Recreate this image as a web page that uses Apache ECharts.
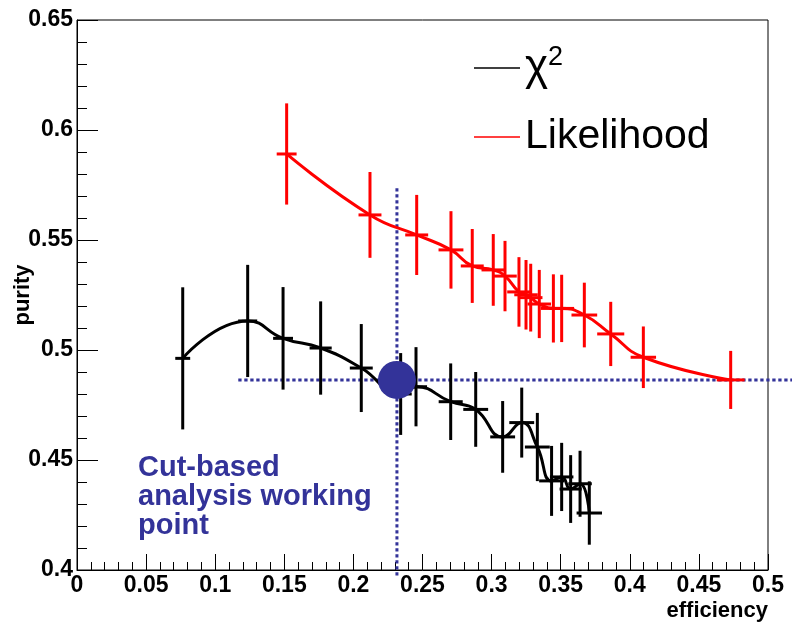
<!DOCTYPE html>
<html>
<head>
<meta charset="utf-8">
<script src="https://cdn.jsdelivr.net/npm/echarts@6/dist/echarts.min.js"></script>
<style>
html,body{margin:0;padding:0;background:#fff;}
#chart{width:792px;height:625px;}
</style>
</head>
<body>
<div id="chart"></div>
<script>
// chi2 selection
const chiX  = [0.0765, 0.1235, 0.1491, 0.1763, 0.2057, 0.2342, 0.2453, 0.2704, 0.2885, 0.3080, 0.3218, 0.3331, 0.3434, 0.3507, 0.3572, 0.3640, 0.3707];
const chiY  = [0.4962, 0.5132, 0.5053, 0.5009, 0.4918, 0.4800, 0.4833, 0.4765, 0.4730, 0.4605, 0.4670, 0.4559, 0.4405, 0.4423, 0.4368, 0.4392, 0.4259];
const chiEX = [0.0054, 0.0069, 0.0072, 0.0080, 0.0083, 0.0080, 0.0080, 0.0087, 0.0090, 0.0090, 0.0090, 0.0090, 0.0090, 0.0085, 0.0080, 0.0085, 0.0092];
const chiEY = [0.0323, 0.0255, 0.0233, 0.0212, 0.0200, 0.0186, 0.0180, 0.0174, 0.0170, 0.0163, 0.0159, 0.0155, 0.0159, 0.0155, 0.0154, 0.0150, 0.0144];
// likelihood selection
const likX  = [0.1517, 0.2120, 0.2458, 0.2706, 0.2860, 0.3012, 0.3097, 0.3198, 0.3249, 0.3283, 0.3345, 0.3447, 0.3507, 0.3671, 0.3862, 0.4098, 0.4730];
const likY  = [0.5891, 0.5614, 0.5523, 0.5455, 0.5382, 0.5364, 0.5336, 0.5264, 0.5251, 0.5238, 0.5209, 0.5189, 0.5189, 0.5159, 0.5073, 0.4967, 0.4864];
const likEX = [0.0072, 0.0083, 0.0083, 0.0090, 0.0083, 0.0085, 0.0085, 0.0085, 0.0085, 0.0085, 0.0085, 0.0090, 0.0090, 0.0093, 0.0098, 0.0092, 0.0101];
const likEY = [0.0230, 0.0195, 0.0182, 0.0176, 0.0168, 0.0163, 0.0160, 0.0158, 0.0158, 0.0154, 0.0155, 0.0155, 0.0153, 0.0147, 0.0146, 0.0140, 0.0132];
// cut-based working point and its guide lines [x1, y1, x2, y2]
const wpX = 0.2315, wpY = 0.4864;
const guides = [
  [0.1167, wpY, 0.5174, wpY],
  [wpX, 0.3975, wpX, 0.5741]
];
const xTicks = {min: 0, max: 0.5, step: 0.05};
const yTicks = {min: 0.4, max: 0.65, step: 0.05};

const BLUE = '#333399';
const FONT = '"Liberation Sans", Arial, Helvetica, sans-serif';

function pts(xs, ys) { return xs.map((x, i) => [x, ys[i]]); }
function errs(xs, ys, ex, ey) { return xs.map((x, i) => [x, ys[i], ex[i], ey[i]]); }

function errRender(color) {
  return function (params, api) {
    const x = api.value(0), y = api.value(1), ex = api.value(2), ey = api.value(3);
    const h0 = api.coord([x - ex, y]), h1 = api.coord([x + ex, y]);
    const v0 = api.coord([x, y - ey]), v1 = api.coord([x, y + ey]);
    const st = {stroke: color, lineWidth: 3};
    return {type: 'group', children: [
      {type: 'line', shape: {x1: h0[0], y1: h0[1], x2: h1[0], y2: h1[1]}, style: st},
      {type: 'line', shape: {x1: v0[0], y1: v0[1], x2: v1[0], y2: v1[1]}, style: st}
    ]};
  };
}

function guideRender(params, api) {
  const a = api.coord([api.value(0), api.value(1)]);
  const b = api.coord([api.value(2), api.value(3)]);
  return {type: 'line', shape: {x1: a[0], y1: a[1], x2: b[0], y2: b[1]},
    style: {stroke: BLUE, lineWidth: 3, lineDash: [3.3, 2.7], lineCap: 'butt'}};
}

const chart = echarts.init(document.getElementById('chart'), null, {renderer: 'canvas'});
const axisLabelStyle = {color: '#000', fontFamily: FONT, fontWeight: 'bold', fontSize: 23};

chart.setOption({
  animation: false,
  backgroundColor: '#fff',
  grid: {left: 77, right: 24, top: 20, bottom: 55, show: true, borderColor: '#000', borderWidth: 1, containLabel: false},
  legend: [
    {
      data: [{name: 'chi2', itemStyle: {color: '#000'}}],
      orient: 'vertical', left: 474, top: 44, padding: 0,
      icon: 'rect', itemWidth: 46, itemHeight: 1.5, itemGap: 14,
      selectedMode: false,
      formatter: function () { return '{c|χ}{s|2}'; },
      textStyle: {
        color: '#000', fontFamily: FONT, fontSize: 44, lineHeight: 48,
        rich: {
          c: {fontSize: 44, fontFamily: FONT, color: '#000', lineHeight: 48},
          s: {fontSize: 27, fontFamily: FONT, color: '#000', verticalAlign: 'top', lineHeight: 30}
        }
      }
    },
    {
      data: [{name: 'Likelihood', itemStyle: {color: '#ff0000'}}],
      orient: 'vertical', left: 474, top: 115, padding: 0,
      icon: 'rect', itemWidth: 46, itemHeight: 1.5, itemGap: 14,
      selectedMode: false,
      textStyle: {color: '#000', fontFamily: FONT, fontSize: 41, lineHeight: 44}
    }
  ],
  xAxis: {
    type: 'value', min: xTicks.min, max: xTicks.max, interval: xTicks.step,
    name: 'efficiency', nameLocation: 'end', nameGap: 0, nameMoveOverlap: false,
    nameTextStyle: {color: '#000', fontFamily: FONT, fontWeight: 'bold', fontSize: 22, align: 'right', verticalAlign: 'top', padding: [30, 0, 0, 0]},
    axisLine: {show: true, onZero: false, lineStyle: {color: '#000', width: 1}},
    axisTick: {show: true, inside: true, length: 16, lineStyle: {color: '#000', width: 1}},
    minorTick: {show: true, splitNumber: 5, length: 8, lineStyle: {color: '#000', width: 1}},
    axisLabel: Object.assign({margin: 4}, axisLabelStyle),
    splitLine: {show: false}, minorSplitLine: {show: false}
  },
  yAxis: {
    type: 'value', min: yTicks.min, max: yTicks.max, interval: yTicks.step,
    name: 'purity', nameLocation: 'middle', nameRotate: 90, nameGap: 43, nameMoveOverlap: false,
    nameTextStyle: {color: '#000', fontFamily: FONT, fontWeight: 'bold', fontSize: 22},
    axisLine: {show: true, onZero: false, lineStyle: {color: '#000', width: 1}},
    axisTick: {show: true, inside: true, length: 21, lineStyle: {color: '#000', width: 1}},
    minorTick: {show: true, splitNumber: 5, length: 10, lineStyle: {color: '#000', width: 1}},
    axisLabel: Object.assign({margin: 4}, axisLabelStyle),
    splitLine: {show: false}, minorSplitLine: {show: false}
  },
  graphic: [{
    type: 'text', left: 138, top: 453, z: 10,
    style: {
      text: 'Cut-based\nanalysis working\npoint',
      fill: BLUE, font: 'bold 29px ' + FONT, lineHeight: 29
    }
  }],
  series: [
    {
      name: 'guides', type: 'custom', data: guides, clip: false, silent: true,
      encode: {x: [0, 2], y: [1, 3]}, renderItem: guideRender, z: 1
    },
    {
      name: 'chi2', type: 'line', data: pts(chiX, chiY), smooth: 0.5, symbol: 'none',
      lineStyle: {color: '#000', width: 3}, itemStyle: {color: '#000'}, z: 3
    },
    {
      name: 'chi2err', type: 'custom', data: errs(chiX, chiY, chiEX, chiEY), encode: {x: 0, y: 1},
      renderItem: errRender('#000'), z: 3
    },
    {
      name: 'Likelihood', type: 'line', data: pts(likX, likY), smooth: 0.5, symbol: 'none',
      lineStyle: {color: '#ff0000', width: 3}, itemStyle: {color: '#ff0000'}, z: 3
    },
    {
      name: 'likerr', type: 'custom', data: errs(likX, likY, likEX, likEY), encode: {x: 0, y: 1},
      renderItem: errRender('#ff0000'), z: 3
    },
    {
      name: 'working point', type: 'scatter', data: [[wpX, wpY]], symbol: 'circle', symbolSize: 38,
      itemStyle: {color: BLUE, opacity: 1}, z: 5, silent: true
    }
  ]
});
</script>
</body>
</html>
